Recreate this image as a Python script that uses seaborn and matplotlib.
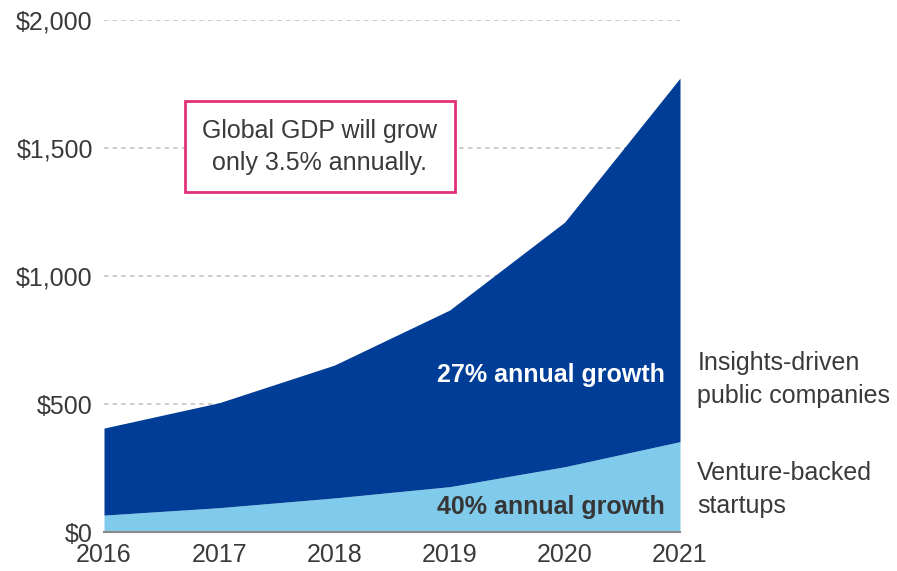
import numpy as np
import pandas as pd
import seaborn as sns
import matplotlib.pyplot as plt

years = [2016, 2017, 2018, 2019, 2020, 2021]
startups = [66, 95, 133, 177, 255, 353]
public_cos = [340, 410, 519, 690, 956, 1420]
y_ticks = [0, 500, 1000, 1500, 2000]
y_labels = ['$0', '$500', '$1,000', '$1,500', '$2,000']

sns.set_theme(style='white')
plt.rcParams['font.family'] = ['Liberation Sans', 'DejaVu Sans']

txt = '#3a3a3a'
dark = '#003d96'
light = '#80cbec'
fs = 18

fig = plt.figure(figsize=(8.97, 5.71), dpi=100)
ax = fig.add_axes([104/897, 39/571, 576/897, 512/571])

ax.stackplot(years, startups, public_cos, colors=[light, dark], linewidth=0, zorder=2)

ax.set_xlim(2016, 2021)
ax.set_ylim(0, 2000)
ax.set_yticks(y_ticks)
ax.set_yticklabels(y_labels)
ax.set_xticks(years)
ax.tick_params(axis='both', length=0, labelsize=fs, colors=txt)
ax.tick_params(axis='y', pad=8)
ax.tick_params(axis='x', pad=8)
ax.yaxis.grid(True, linestyle=(0, (2.6, 2.6)), color='#c4c4c4', linewidth=1.2, zorder=0)
ax.set_axisbelow(True)
sns.despine(ax=ax, left=True, top=True, right=True)
ax.spines['bottom'].set_color('#8a8a8a')
ax.spines['bottom'].set_linewidth(1.5)
ax.spines['bottom'].set_zorder(3)

# labels inside areas
ax.text(2020.87, 613, '27% annual growth', ha='right', va='center', fontsize=fs,
        fontweight='bold', color='white', zorder=4)
ax.text(2020.87, 98, '40% annual growth', ha='right', va='center', fontsize=fs,
        fontweight='bold', color='#363636', zorder=4)

# series labels on the right
ax.text(1.03, 0.298, 'Insights-driven\npublic companies', transform=ax.transAxes,
        ha='left', va='center', fontsize=fs, color=txt, linespacing=1.5)
ax.text(1.03, 0.083, 'Venture-backed\nstartups', transform=ax.transAxes,
        ha='left', va='center', fontsize=fs, color=txt, linespacing=1.5)

# callout box
ax.text(2017.875, 1505, 'Global GDP will grow\nonly 3.5% annually.', ha='center', va='center',
        fontsize=fs, color=txt, linespacing=1.4, zorder=5,
        bbox=dict(boxstyle='square,pad=0.7', facecolor='white', edgecolor='#e2307a', linewidth=2))

fig.savefig('out.png', dpi=100)
